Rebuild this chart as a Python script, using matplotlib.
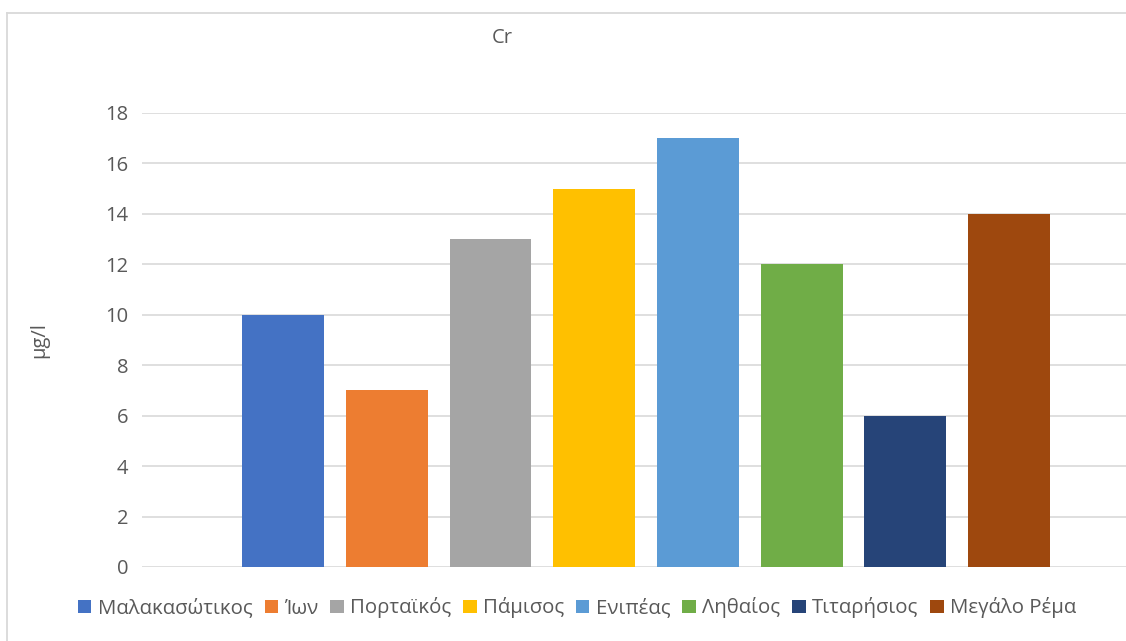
import matplotlib.pyplot as plt
from matplotlib.lines import Line2D

# Σταθμοί και συγκεντρώσεις Cr (μg/l)
stations = ["Μαλακασώτικος", "Ίων", "Πορταϊκός", "Πάμισος", "Ενιπέας",
            "Ληθαίος", "Τιταρήσιος", "Μεγάλο Ρέμα"]
cr_values = [10, 7, 13, 15, 17, 12, 6, 14]
colors = ["#4472C4", "#ED7D31", "#A5A5A5", "#FFC000", "#5B9BD5",
          "#70AD47", "#264478", "#9E480E"]
yticks = [0, 2, 4, 6, 8, 10, 12, 14, 16, 18]

plt.rcParams['font.family'] = ['Open Sans', 'DejaVu Sans']
text_color = "#595959"
grid_color = "#D9D9D9"

fig = plt.figure(figsize=(11.26, 6.41), dpi=100)
ax = fig.add_axes([142 / 1126, 74 / 641, 984 / 1126, 454 / 641])

# πλαίσιο γραφήματος (αριστερά και πάνω)
x0, y0 = 7.5 / 1126, 1 - 12.5 / 641
fig.lines.append(Line2D([x0, x0], [0, y0], transform=fig.transFigure,
                        color=grid_color, linewidth=1.3))
fig.lines.append(Line2D([x0, 1], [y0, y0], transform=fig.transFigure,
                        color=grid_color, linewidth=1.3))

for i, (name, val, c) in enumerate(zip(stations, cr_values, colors)):
    ax.bar(i + 1, val, width=0.79, color=c, label=name, zorder=3)

ax.set_xlim(-0.36, 9.128)
ax.set_ylim(0, 18)
ax.set_yticks(yticks)
ax.set_xticks([])
ax.yaxis.grid(True, color=grid_color, linewidth=1.2, zorder=0)
for s in ax.spines.values():
    s.set_visible(False)
ax.tick_params(axis='y', length=0, pad=10, labelsize=14.5, labelcolor=text_color)
ax.set_ylabel("μg/l", fontsize=14.5, color=text_color, labelpad=40)

fig.text(502 / 1126, 1 - 38 / 641, "Cr", ha='center', va='center',
         fontsize=14.5, color=text_color)

leg = fig.legend(loc='center', bbox_to_anchor=(577 / 1126, 1 - 608 / 641),
                 ncol=8, frameon=False, fontsize=14.7, handlelength=0.65,
                 handleheight=0.65, handletextpad=0.3, columnspacing=0.6,
                 labelcolor=text_color)

plt.savefig("out.png", dpi=100)
